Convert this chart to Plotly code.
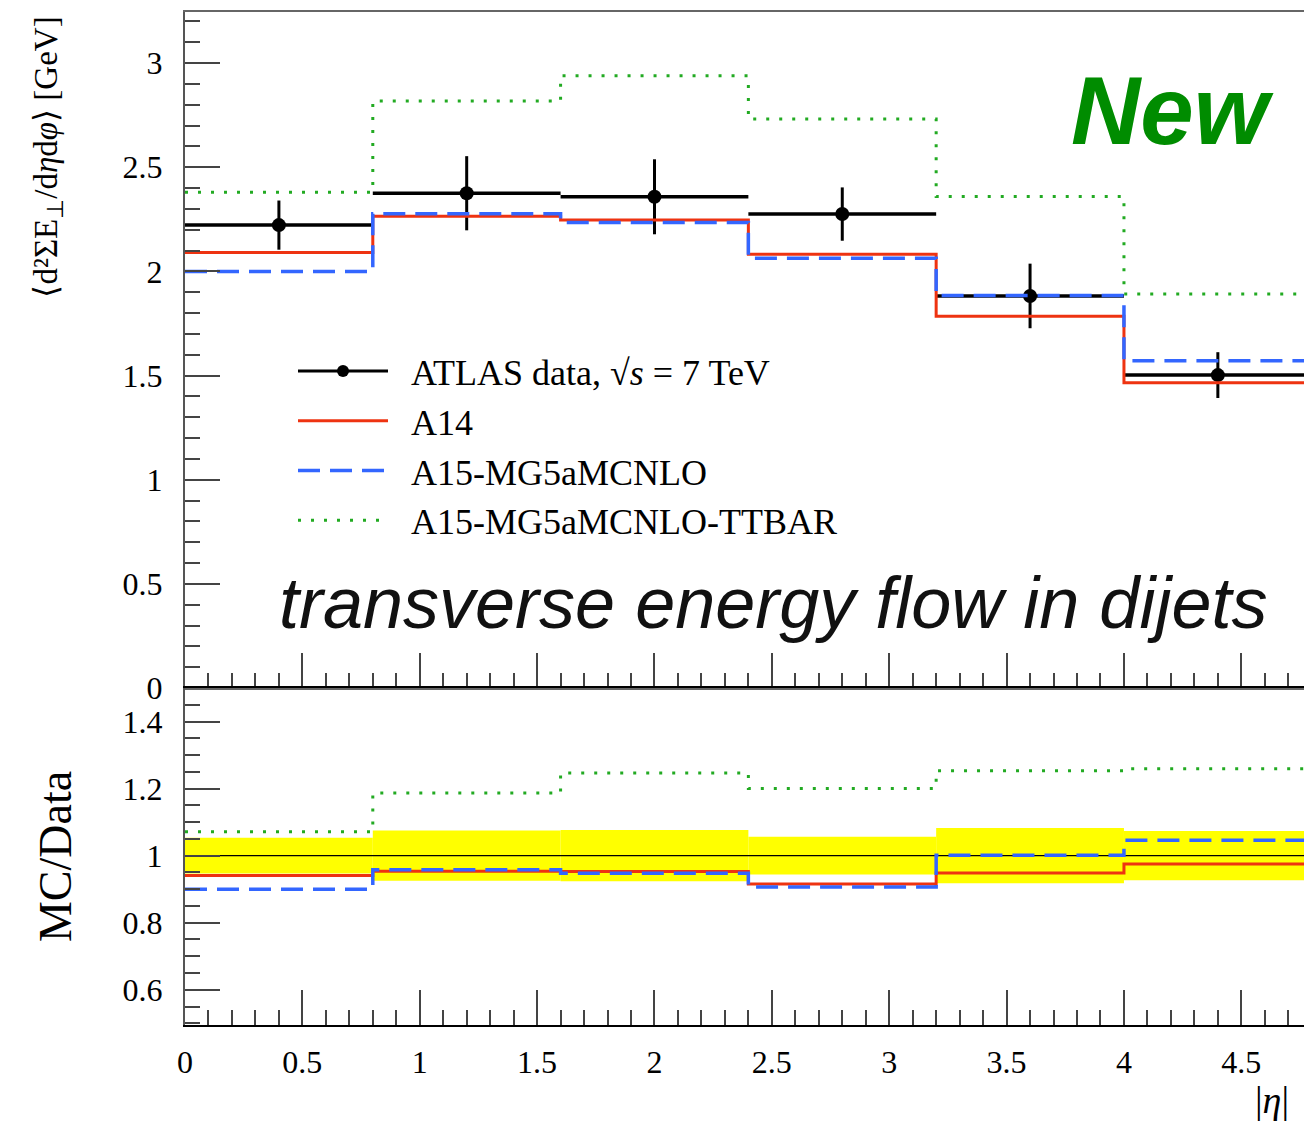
import plotly.graph_objects as go

# ---- data ----
bin_edges = [0.0, 0.8, 1.6, 2.4, 3.2, 4.0, 4.8]
data_vals = [2.222, 2.375, 2.358, 2.275, 1.882, 1.502]
data_err = [0.118, 0.178, 0.180, 0.128, 0.155, 0.110]
a14_vals = [2.090, 2.264, 2.247, 2.082, 1.785, 1.465]
a15_vals = [1.999, 2.276, 2.235, 2.063, 1.884, 1.571]
ttbar_vals = [2.380, 2.818, 2.939, 2.731, 2.359, 1.891]

x_ticks = [0, 0.5, 1, 1.5, 2, 2.5, 3, 3.5, 4, 4.5]
x_tick_labels = ["0", "0.5", "1", "1.5", "2", "2.5", "3", "3.5", "4", "4.5"]

centers = [(bin_edges[i] + bin_edges[i + 1]) / 2 for i in range(len(data_vals))]
halfw = [(bin_edges[i + 1] - bin_edges[i]) / 2 for i in range(len(data_vals))]
widths = [bin_edges[i + 1] - bin_edges[i] for i in range(len(data_vals))]


def step_y(vals):
    return list(vals) + [vals[-1]]


def ratio(mc):
    return [m / d for m, d in zip(mc, data_vals)]


rel_err = [e / d for e, d in zip(data_err, data_vals)]

RED = "#EE3311"
BLUE = "#3366FF"
GREEN = "#22AA22"
SERIF = "Liberation Serif"
SP = "\u2002"

fig = go.Figure()

# ---- top panel ----
fig.add_trace(go.Scatter(
    x=centers, y=data_vals, mode="markers", xaxis="x", yaxis="y",
    marker=dict(color="black", size=14),
    error_y=dict(type="data", array=data_err, color="black", thickness=3, width=0),
    error_x=dict(type="data", array=halfw, color="black", thickness=3.5, width=0),
    showlegend=False, hoverinfo="skip"))
fig.add_trace(go.Scatter(
    x=[None], y=[None], mode="lines+markers", name=SP + "ATLAS data, √<i>s</i> = 7 TeV",
    line=dict(color="black", width=3), marker=dict(color="black", size=12),
    xaxis="x", yaxis="y"))

series = [
    ("A14", a14_vals, dict(color=RED, width=3)),
    ("A15-MG5aMCNLO", a15_vals, dict(color=BLUE, width=3.5, dash="22px,10px")),
    ("A15-MG5aMCNLO-TTBAR", ttbar_vals, dict(color=GREEN, width=3, dash="3px,10px")),
]
for name, vals, ln in series:
    fig.add_trace(go.Scatter(
        x=bin_edges, y=step_y(vals), mode="lines", line_shape="hv", line=ln,
        name=SP + name, xaxis="x", yaxis="y"))

# ---- ratio panel ----
fig.add_trace(go.Bar(
    x=centers, y=[2 * r for r in rel_err], base=[1 - r for r in rel_err], width=widths,
    marker=dict(color="#FFFF00", line=dict(width=0)), xaxis="x2", yaxis="y2",
    showlegend=False, hoverinfo="skip"))
fig.add_trace(go.Scatter(
    x=bin_edges, y=step_y([1.0] * len(data_vals)), mode="lines", line_shape="hv",
    line=dict(color="black", width=1.2), xaxis="x2", yaxis="y2", showlegend=False))
for name, vals, ln in series:
    fig.add_trace(go.Scatter(
        x=bin_edges, y=step_y(ratio(vals)), mode="lines", line_shape="hv", line=ln,
        xaxis="x2", yaxis="y2", showlegend=False))

split = (1025 - 688) / 1013.0
xr = [0, 4.767]
tickfont = dict(family=SERIF, size=32, color="black")

common_x = dict(range=xr, ticks="inside", ticklen=35, tickwidth=1.5, tickcolor="#444",
                showline=True, linewidth=1.8,
                mirror=True, showgrid=False, zeroline=False,
                minor=dict(ticks="inside", ticklen=15, dtick=0.1, tick0=0,
                           tickwidth=1.5, tickcolor="#444", showgrid=False))
common_y = dict(ticks="inside", ticklen=35, tickwidth=1.5, tickcolor="#444",
                showline=True, linecolor="#555", linewidth=2, showgrid=False,
                zeroline=False, tickfont=tickfont, ticklabelstandoff=14)

fig.update_layout(
    width=1304, height=1127,
    margin=dict(l=185, r=0, t=12, b=102),
    paper_bgcolor="white", plot_bgcolor="white",
    barmode="overlay",
    xaxis=dict(anchor="y", domain=[0, 1], showticklabels=False, tick0=0, dtick=0.5,
               linecolor="#666", **common_x),
    yaxis=dict(anchor="x", domain=[split, 1], range=[0, 3.245], tick0=0, dtick=0.5,
               minor=dict(ticks="inside", ticklen=15, dtick=0.1, tick0=0,
                          tickwidth=1.5, tickcolor="#444"),
               **common_y),
    xaxis2=dict(anchor="y2", domain=[0, 1], showticklabels=True,
                tickvals=x_ticks, ticktext=x_tick_labels, linecolor="black",
                tickfont=tickfont, ticklabelstandoff=8, **common_x),
    yaxis2=dict(anchor="x2", domain=[0, split], range=[0.495, 1.5], tick0=0.2, dtick=0.2,
                minor=dict(ticks="inside", ticklen=15, dtick=0.05, tick0=0,
                           tickwidth=1.5, tickcolor="#444"),
                title=dict(text="MC/Data", font=dict(family=SERIF, size=46, color="black"),
                           standoff=36),
                **common_y),
    legend=dict(x=(293 - 185) / 1119, y=(1025 - 341) / 1013, xanchor="left", yanchor="top",
                bgcolor="rgba(0,0,0,0)", borderwidth=0, itemwidth=90,
                font=dict(family=SERIF, size=36, color="black"), tracegroupgap=0),
    annotations=[
        dict(text="⟨d²ΣE<sub>⊥</sub>/d<i>η</i>d<i>φ</i>⟩ [GeV]", textangle=-90,
             xref="paper", yref="paper", x=(48 - 185) / 1119, y=(1025 - 15) / 1013,
             xanchor="center", yanchor="top", showarrow=False,
             font=dict(family=SERIF, size=33, color="black")),
        dict(text="<b><i>New</i></b>", xref="paper", yref="paper",
             x=(1276 - 185) / 1119, y=(1025 - 110) / 1013, xanchor="right", yanchor="middle",
             showarrow=False, font=dict(family="Liberation Sans", size=96, color="#008C00")),
        dict(text="<i>transverse energy flow in dijets</i>", xref="paper", yref="paper",
             x=(773 - 185) / 1119, y=(1025 - 603) / 1013, xanchor="center", yanchor="middle",
             showarrow=False, font=dict(family="Liberation Sans", size=72, color="#111")),
        dict(text="|<i>η</i>|", xref="paper", yref="paper",
             x=(1253 - 185) / 1119, y=(1025 - 1100) / 1013, xanchor="left", yanchor="middle",
             showarrow=False, font=dict(family=SERIF, size=38, color="black")),
    ],
)

fig.write_html("out.html", config={"displayModeBar": False},
               post_script="document.body.style.margin='0';")
